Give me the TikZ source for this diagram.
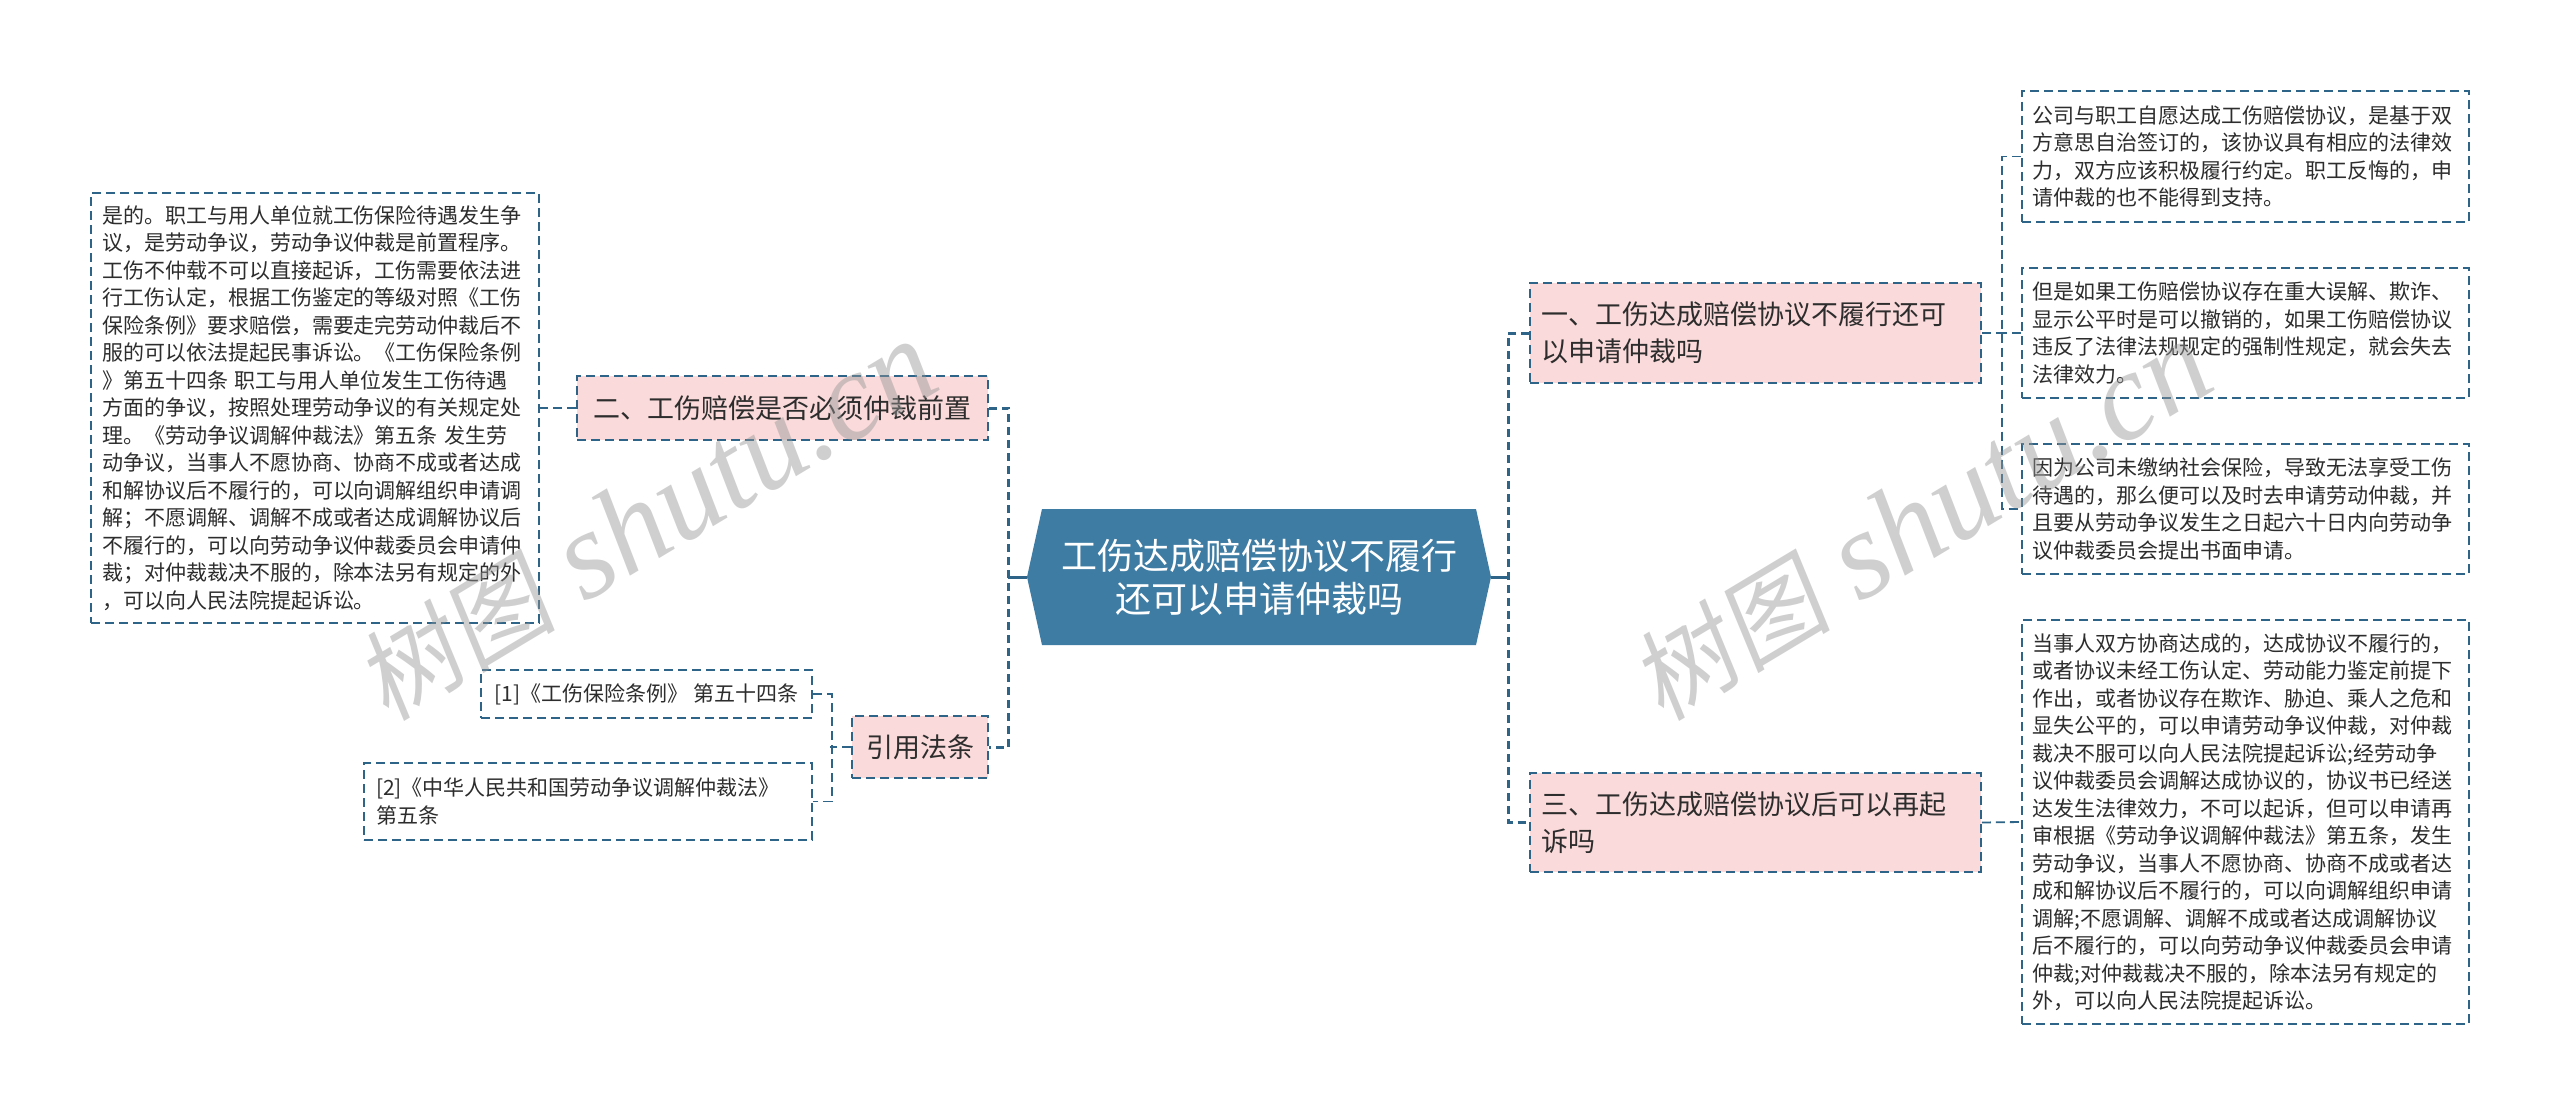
\documentclass[tikz,border=0pt]{standalone}
\usepackage{fontspec}
\setmainfont{Noto Sans CJK SC}
\newfontfamily\wmserif{Liberation Serif}
\newfontfamily\wmcjk[FakeSlant=0.15]{Noto Sans CJK SC}
\usetikzlibrary{calc}
\definecolor{bordc}{RGB}{45,100,135}
\definecolor{rootc}{RGB}{62,124,163}
\definecolor{pinkc}{RGB}{250,218,218}
\definecolor{txtc}{RGB}{45,45,45}
\definecolor{wmc}{RGB}{150,150,150}
\begin{document}
\begin{tikzpicture}[x=1pt,y=-1pt,
  box/.style={draw=bordc, line width=1.8pt, dash pattern=on 9pt off 5pt, text=txtc, inner sep=0pt, anchor=center},
  leaf/.style={box, align=left, font=\fontsize{21}{27.5}\selectfont},
  topic/.style={box, fill=pinkc, font=\fontsize{27}{37}\selectfont},
  conn/.style={draw=bordc, line width=1.8pt, dash pattern=on 9pt off 5pt},
  spine/.style={draw=bordc, line width=3pt, dash pattern=on 8pt off 5pt},
  rootlink/.style={draw=bordc, line width=3pt},
  wmark/.style={text=wmc, opacity=0.45, rotate=31, inner sep=0pt, anchor=center}
]
\useasboundingbox (0,0) rectangle (2560,1116);
\fill[white] (0,0) rectangle (2560,1116);

% root hexagon
\fill[rootc] (1027,577) -- (1042,509) -- (1476,509) -- (1491,577) -- (1476,645) -- (1042,645) -- cycle;
\node[font=\fontsize{36}{43}\selectfont, text=white, align=center, minimum width=464, minimum height=136, inner sep=0pt] (root) at (1259,577) {工伤达成赔偿协议不履行\\还可以申请仲裁吗};

% left side
\node[topic, minimum width=411, minimum height=64] (n2) at (782.5,408) {二、工伤赔偿是否必须仲裁前置};
\node[topic, minimum width=136, minimum height=62] (yin) at (920,747) {引用法条};
\node[leaf, minimum width=448, minimum height=430, text width=426] (big) at (315,408) {是的。职工与用人单位就工伤保险待遇发生争\\议，是劳动争议，劳动争议仲裁是前置程序。\\工伤不仲载不可以直接起诉，工伤需要依法进\\行工伤认定，根据工伤鉴定的等级对照《工伤\\保险条例》要求赔偿，需要走完劳动仲裁后不\\服的可以依法提起民事诉讼。《工伤保险条例\\》第五十四条 职工与用人单位发生工伤待遇\\方面的争议，按照处理劳动争议的有关规定处\\理。《劳动争议调解仲裁法》第五条 发生劳\\动争议，当事人不愿协商、协商不成或者达成\\和解协议后不履行的，可以向调解组织申请调\\解；不愿调解、调解不成或者达成调解协议后\\不履行的，可以向劳动争议仲裁委员会申请仲\\裁；对仲裁裁决不服的，除本法另有规定的外\\，可以向人民法院提起诉讼。};
\node[leaf, minimum width=331, minimum height=48] (r1) at (646.5,694) {[1]《工伤保险条例》 第五十四条};
\node[leaf, minimum width=448, minimum height=77, text width=424] (r2) at (588,801.5) {[2]《中华人民共和国劳动争议调解仲裁法》\\第五条};

% right side
\node[topic, minimum width=451, minimum height=100, text width=429, align=left] (n1) at (1755.5,333) {一、工伤达成赔偿协议不履行还可\\以申请仲裁吗};
\node[topic, minimum width=451, minimum height=99, text width=429, align=left] (n3) at (1755.5,822.5) {三、工伤达成赔偿协议后可以再起\\诉吗};
\node[leaf, minimum width=447, minimum height=131, text width=426] (ba) at (2245.5,156.5) {公司与职工自愿达成工伤赔偿协议，是基于双\\方意思自治签订的，该协议具有相应的法律效\\力，双方应该积极履行约定。职工反悔的，申\\请仲裁的也不能得到支持。};
\node[leaf, minimum width=447, minimum height=130, text width=426] (bb) at (2245.5,333) {但是如果工伤赔偿协议存在重大误解、欺诈、\\显示公平时是可以撤销的，如果工伤赔偿协议\\违反了法律法规规定的强制性规定，就会失去\\法律效力。};
\node[leaf, minimum width=447, minimum height=130, text width=426] (bc) at (2245.5,509) {因为公司未缴纳社会保险，导致无法享受工伤\\待遇的，那么便可以及时去申请劳动仲裁，并\\且要从劳动争议发生之日起六十日内向劳动争\\议仲裁委员会提出书面申请。};
\node[leaf, minimum width=447, minimum height=404, text width=426] (bd) at (2245.5,822) {当事人双方协商达成的，达成协议不履行的，\\或者协议未经工伤认定、劳动能力鉴定前提下\\作出，或者协议存在欺诈、胁迫、乘人之危和\\显失公平的，可以申请劳动争议仲裁，对仲裁\\裁决不服可以向人民法院提起诉讼;经劳动争\\议仲裁委员会调解达成协议的，协议书已经送\\达发生法律效力，不可以起诉，但可以申请再\\审根据《劳动争议调解仲裁法》第五条，发生\\劳动争议，当事人不愿协商、协商不成或者达\\成和解协议后不履行的，可以向调解组织申请\\调解;不愿调解、调解不成或者达成调解协议\\后不履行的，可以向劳动争议仲裁委员会申请\\仲裁;对仲裁裁决不服的，除本法另有规定的\\外，可以向人民法院提起诉讼。};

% connectors
\draw[rootlink] (root.west) -- ++(-19,0);
\draw[rootlink] (root.east) -- ++(18,0);
\draw[spine] (n2.east) -- ++(20,0) |- (yin.east);
\draw[spine] (n1.west) -- ++(-21,0) |- (n3.west);
\draw[conn] (n2.west) -- (big.east);
\draw[conn] (yin.west) -- ++(-21,0);
\draw[conn] (r1.east) -- ++(19,0) |- (r2.east);
\draw[conn] (n1.east) -- ++(22,0);
\draw[conn] (ba.west) -- ++(-19,0) |- (bc.west);
\draw[conn] (bb.west) -- ++(-19,0);
\draw[conn] (n3.east) -- (bd.west);

% watermarks
\node[wmark] (wm1) at (646,521) {{\wmcjk\fontsize{100}{100}\selectfont 树图}\hspace{30pt}{\wmserif\itshape\fontsize{125}{125}\selectfont shutu.cn}};
\node[wmark] (wm2) at (1921,521) {{\wmcjk\fontsize{100}{100}\selectfont 树图}\hspace{30pt}{\wmserif\itshape\fontsize{125}{125}\selectfont shutu.cn}};
\end{tikzpicture}
\end{document}
